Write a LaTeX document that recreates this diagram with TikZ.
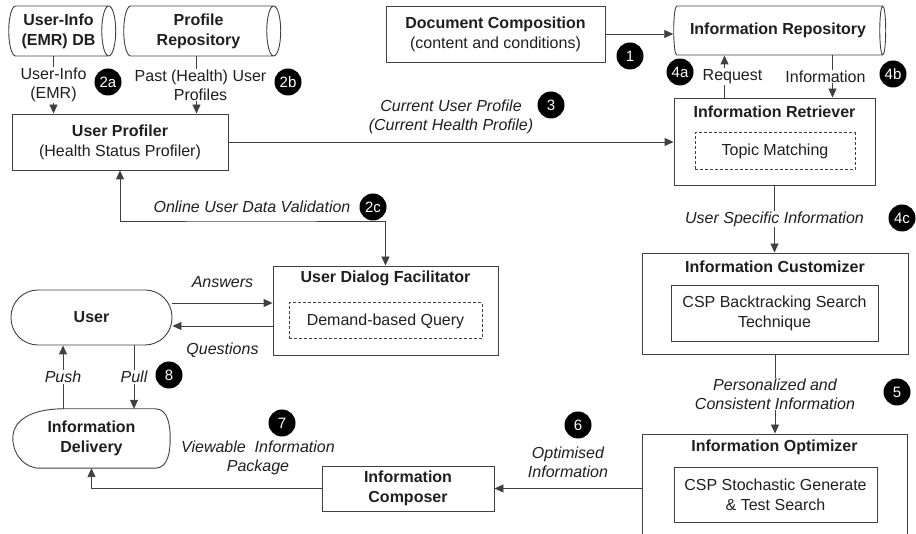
\documentclass[tikz,border=0pt]{standalone}
\usepackage{fontspec}
\setmainfont{Liberation Sans}
\usepackage{tikz}
\usetikzlibrary{arrows.meta, shapes.geometric}

\definecolor{linegray}{gray}{0.25}
\definecolor{textgray}{gray}{0.12}

\tikzset{
  box/.style={rectangle, draw=linegray, line width=0.9pt, inner sep=0pt, align=center},
  innerbox/.style={box, line width=1pt},
  store/.style={cylinder, draw=linegray, line width=0.9pt, aspect=0.4, inner sep=0pt,
                align=center, font=\fontsize{16}{20}\selectfont\bfseries},
  badge/.style={circle, fill=black, text=white, minimum size=27pt, inner sep=0pt,
                font=\fontsize{15}{15}\selectfont},
  lbl/.style={fill=white, inner sep=1pt, align=center, font=\fontsize{16}{19}\selectfont\itshape},
  plain/.style={fill=white, inner sep=1pt, align=center, font=\fontsize{16}{19}\selectfont},
}

\begin{document}
\begin{tikzpicture}[x=1pt, y=1pt, text=textgray, font=\fontsize{16}{20}\selectfont]
\useasboundingbox (0,0) rectangle (916,534);

% data stores (cylinder lies on its side: height is the long side)
\begin{scope}[every node/.style={store}]
  \node[minimum height=107pt, minimum width=50pt] (emr) at (58.5,503) {User-Info\\(EMR) DB};
  \node[minimum height=157pt, minimum width=50pt] (prep) at (198.5,503) {Profile\\Repository};
  \node[minimum height=212pt, minimum width=49pt] (repo) at (778,503.5) {Information Repository};
\end{scope}

% process boxes
\begin{scope}[every node/.style={box}]
  \node[minimum width=219pt, minimum height=56pt] (doc) at (495.5,500) {\textbf{Document Composition}\\(content and conditions)};
  \node[minimum width=216pt, minimum height=56pt] (prof) at (120,392) {\textbf{User Profiler}\\(Health Status Profiler)};
  \node[minimum width=201pt, minimum height=87pt] (retr) at (774.5,392.5) {};
  \node[minimum width=225pt, minimum height=89pt] (dial) at (385.5,223.5) {};
  \node[minimum width=266pt, minimum height=101pt] (cust) at (775,230.5) {};
  \node[minimum width=265pt, minimum height=126pt] (opt) at (774.5,37) {};
  \node[minimum width=172pt, minimum height=45pt] (comp) at (408,45.5) {\textbf{Information}\\\textbf{Composer}};
  \node[rounded corners=27pt, minimum width=161pt, minimum height=55pt] (user) at (91.5,216.5) {\textbf{User}};
\end{scope}

% parts inside the boxes
\begin{scope}[every node/.style={innerbox}]
  \node[dashed, dash pattern=on 3pt off 2pt, minimum width=160pt, minimum height=37pt] (topic) at (775,382.5) {Topic Matching};
  \node[dashed, dash pattern=on 3pt off 2pt, minimum width=193pt, minimum height=36pt] (query) at (385.5,213) {Demand-based Query};
  \node[line width=0.9pt, minimum width=207pt, minimum height=56pt] (csp1) at (774.5,221) {CSP Backtracking Search\\Technique};
  \node[line width=0.9pt, minimum width=203pt, minimum height=55pt] (csp2) at (775.5,39.5) {CSP Stochastic Generate\\\& Test Search};
\end{scope}

\begin{scope}[every node/.style={font=\fontsize{16}{20}\selectfont\bfseries}]
  \node (retrT) at (774.5,422) {Information Retriever};
  \node (dialT) at (385.5,256) {User Dialog Facilitator};
  \node (custT) at (775,267) {Information Customizer};
  \node (optT) at (774.5,87) {Information Optimizer};
\end{scope}

% display shape
\node[minimum width=157pt, minimum height=59pt, inner sep=0pt, align=center,
      font=\fontsize{16}{20}\selectfont\bfseries] (deliv) at (91.5,95.5) {Information\\Delivery};
\draw[linegray, line width=0.9pt] ([xshift=50pt]deliv.north west) -- ([xshift=-15pt]deliv.north east)
  to[out=0,in=90] (deliv.east) to[out=-90,in=0] ([xshift=-15pt]deliv.south east)
  -- ([xshift=27pt]deliv.south west) to[out=180,in=-90] (deliv.west)
  to[out=90,in=180] ([xshift=50pt]deliv.north west);

\begin{scope}[>={Triangle[length=9pt, width=8pt]},
              every edge/.style={draw=linegray, line width=0.9pt}]
  \path[->] (doc.east) edge (doc.east -| repo.west);
  \path[->] ([xshift=-5pt]emr.south) edge node[plain] (lemr) {User-Info\\(EMR)} ([xshift=-5pt]emr.south |- prof.north);
  \path[->] ([xshift=-2pt]prep.south) edge node[plain, xshift=4pt] (lprep) {Past (Health) User\\Profiles} ([xshift=-2pt]prep.south |- prof.north);
  \path[->] (prof.east) edge node[lbl, above=7pt, fill=none] (lcur) {Current User Profile\\(Current Health Profile)} (prof.east -| retr.west);
  \path[->] ([xshift=-50pt]retr.north) edge node[plain, xshift=8pt] (lreq) {Request} ([xshift=-50pt]retr.north |- repo.south);
  \path[->] ([xshift=58pt]retr.north |- repo.south) edge node[plain, xshift=-7pt] (linf) {Information} ([xshift=58pt]retr.north);
  \path[->] (retr.south) edge node[lbl] (lspec) {User Specific Information} (retr.south |- cust.north);
  \path[->] (cust.south) edge node[lbl] (lpers) {Personalized and\\Consistent Information} (cust.south |- opt.north);
  \path[->] (comp.east -| opt.west) edge node[lbl, above=9pt, fill=none] (lopt) {Optimised\\Information} (comp.east);
  \path[->] ([yshift=14.5pt]user.east) edge node[lbl, above=14pt, fill=none] (lans) {Answers} ([yshift=14.5pt]user.east -| dial.west);
  \path[->] ([yshift=-8.5pt]user.east -| dial.west) edge node[lbl, below=15pt, fill=none] (lque) {Questions} ([yshift=-8.5pt]user.east);
  \path[<-] ([xshift=-28.5pt]user.south) edge node[lbl] (lpush) {Push} ([xshift=-28.5pt]user.south |- deliv.north);
  \path[->] ([xshift=42.5pt]user.south) edge node[lbl] (lpull) {Pull} ([xshift=42.5pt]user.south |- deliv.north);
\end{scope}

\begin{scope}[>={Triangle[length=9pt, width=8pt]}, linegray, line width=0.9pt]
  \coordinate (valid) at (250,313);
  \draw[<->] (prof.south) |- (valid) -| (dial.north);
  \draw[->] (comp.west) -| (deliv.south);
\end{scope}

\node[lbl, fill=none] (lval) at (252,327) {Online User Data Validation};
\node[lbl, fill=none] (lview) at (258,76) {Viewable~~Information\\Package};

% step numbers
\begin{scope}[every node/.style={badge}]
  \node (n1) at (630,478) {1};
  \node (n2a) at (108,452) {2a};
  \node (n2b) at (288,452) {2b};
  \node (n2c) at (373,327) {2c};
  \node (n3) at (551,429) {3};
  \node (n4a) at (680,462) {4a};
  \node (n4b) at (893,460) {4b};
  \node (n4c) at (902,316) {4c};
  \node (n5) at (897,142) {5};
  \node (n6) at (578,109) {6};
  \node (n7) at (282,111) {7};
  \node (n8) at (169,159) {8};
\end{scope}

\end{tikzpicture}
\end{document}
